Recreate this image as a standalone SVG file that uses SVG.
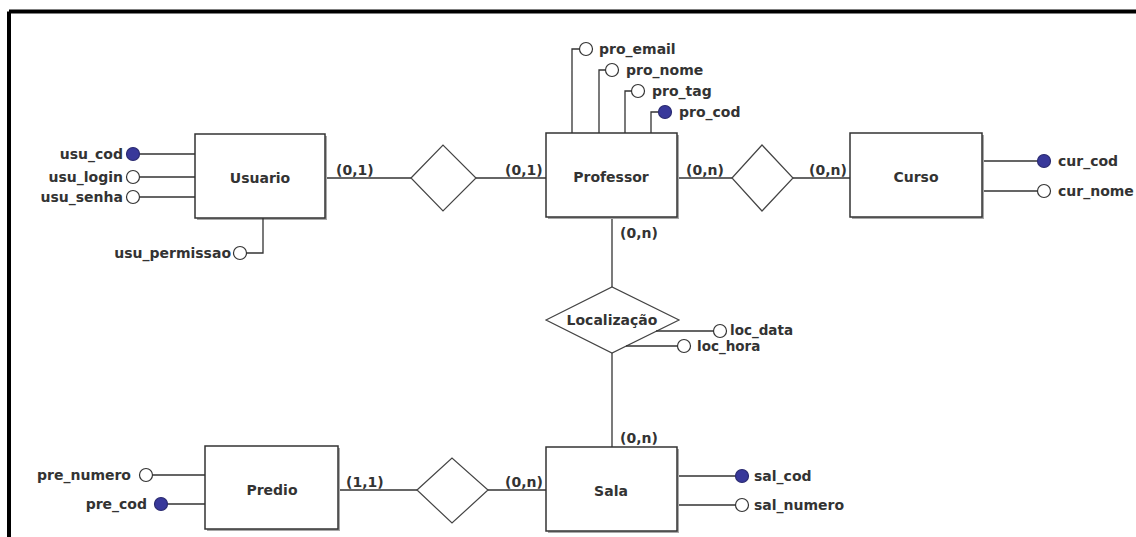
<svg xmlns="http://www.w3.org/2000/svg" width="1136" height="537" viewBox="0 0 1136 537">
<style>
text{font-family:"DejaVu Sans","Liberation Sans",sans-serif;font-weight:bold;font-size:14px;fill:#333}
.ent{fill:#fff;stroke:#333;stroke-width:1.5}
.sh{fill:#a8a8a8}
.rel{fill:#fff;stroke:#444;stroke-width:1.2}
.ln{fill:none;stroke:#333;stroke-width:1.3}
.att{fill:#fff;stroke:#333;stroke-width:1.2}
.key{fill:#38389a;stroke:#2a2a70;stroke-width:1.2}
.m{text-anchor:middle}
.e{text-anchor:end}
.sm{font-size:13.5px}
</style>
<rect width="1136" height="537" fill="#fff"/>
<path d="M9,11.5 H1136 M9,11.5 V537" fill="none" stroke="#000" stroke-width="4"/>

<g id="connectors">
<path class="ln" d="M325,178 H411"/>
<path class="ln" d="M476,178 H546"/>
<path class="ln" d="M677,178 H732"/>
<path class="ln" d="M793,178 H850"/>
<path class="ln" d="M612,217 V287"/>
<path class="ln" d="M612,353 V447"/>
<path class="ln" d="M338,490 H417"/>
<path class="ln" d="M488,490 H546"/>
<text x="336" y="175">(0,1)</text>
<text x="505" y="175">(0,1)</text>
<text x="686" y="175">(0,n)</text>
<text x="809" y="175">(0,n)</text>
<text x="620" y="238">(0,n)</text>
<text x="620" y="443">(0,n)</text>
<text x="346" y="487">(1,1)</text>
<text x="505" y="487">(0,n)</text>
</g>

<g id="usuario">
<rect class="sh" x="197" y="136" width="130" height="84"/>
<rect class="ent" x="195" y="134" width="130" height="84"/>
<text class="m" x="260" y="183">Usuario</text>
</g>
<g id="usuario-attrs">
<path class="ln" d="M140,154 H195 M140,177 H195 M140,197 H195 M263,218 V253 H247"/>
<circle class="key" cx="133" cy="154" r="6.5"/>
<circle class="att" cx="133" cy="177" r="6.5"/>
<circle class="att" cx="133" cy="197" r="6.5"/>
<circle class="att" cx="240" cy="253" r="6.5"/>
<text class="e" x="123" y="159">usu_cod</text>
<text class="e" x="123" y="182">usu_login</text>
<text class="e" x="123" y="202">usu_senha</text>
<text class="e" x="231" y="258">usu_permissao</text>
</g>

<g id="rel-usuario-professor">
<polygon class="rel" points="411,178 443,145 476,178 443,211"/>
</g>

<g id="professor">
<rect class="sh" x="548" y="135" width="131" height="84"/>
<rect class="ent" x="546" y="133" width="131" height="84"/>
<text class="m" x="611" y="182">Professor</text>
</g>
<g id="professor-attrs">
<path class="ln" d="M572,133 V49 H579 M599,133 V70 H605 M625,133 V91 H631 M651,133 V112 H658"/>
<circle class="att" cx="586" cy="49" r="6.5"/>
<circle class="att" cx="612" cy="70" r="6.5"/>
<circle class="att" cx="638" cy="91" r="6.5"/>
<circle class="key" cx="665" cy="112" r="6.5"/>
<text x="599" y="54">pro_email</text>
<text x="626" y="75">pro_nome</text>
<text x="652" y="96">pro_tag</text>
<text x="679" y="117">pro_cod</text>
</g>

<g id="rel-professor-curso">
<polygon class="rel" points="732,178 762,145 793,178 762,211"/>
</g>

<g id="curso">
<rect class="sh" x="852" y="135" width="132" height="84"/>
<rect class="ent" x="850" y="133" width="132" height="84"/>
<text class="m" x="916" y="182">Curso</text>
</g>
<g id="curso-attrs">
<path class="ln" d="M984,161 H1037 M984,191 H1037"/>
<circle class="key" cx="1044" cy="161" r="6.5"/>
<circle class="att" cx="1044" cy="191" r="6.5"/>
<text x="1058" y="166">cur_cod</text>
<text x="1058" y="196">cur_nome</text>
</g>

<g id="localizacao">
<polygon class="rel" points="546,320 612,287 679,320 612,353"/>
<text class="m" x="612" y="325">Localização</text>
<path class="ln" d="M656,331 H713 M626,346 H677"/>
<circle class="att" cx="720" cy="331" r="6.5"/>
<circle class="att" cx="684" cy="346" r="6.5"/>
<text class="sm" x="730" y="335">loc_data</text>
<text class="sm" x="697" y="351">loc_hora</text>
</g>

<g id="sala">
<rect class="sh" x="548" y="449" width="131" height="84"/>
<rect class="ent" x="546" y="447" width="131" height="84"/>
<text class="m" x="611" y="496">Sala</text>
</g>
<g id="sala-attrs">
<path class="ln" d="M679,476 H735 M679,505 H735"/>
<circle class="key" cx="742" cy="476" r="6.5"/>
<circle class="att" cx="742" cy="505" r="6.5"/>
<text x="754" y="481">sal_cod</text>
<text x="754" y="510">sal_numero</text>
</g>

<g id="rel-predio-sala">
<polygon class="rel" points="417,490 452,458 488,490 452,523"/>
</g>

<g id="predio">
<rect class="sh" x="207" y="448" width="133" height="83"/>
<rect class="ent" x="205" y="446" width="133" height="83"/>
<text class="m" x="272" y="495">Predio</text>
</g>
<g id="predio-attrs">
<path class="ln" d="M205,475 H153 M205,504 H168"/>
<circle class="att" cx="146" cy="475" r="6.5"/>
<circle class="key" cx="161" cy="504" r="6.5"/>
<text class="e" x="131" y="480">pre_numero</text>
<text class="e" x="147" y="509">pre_cod</text>
</g>
</svg>
